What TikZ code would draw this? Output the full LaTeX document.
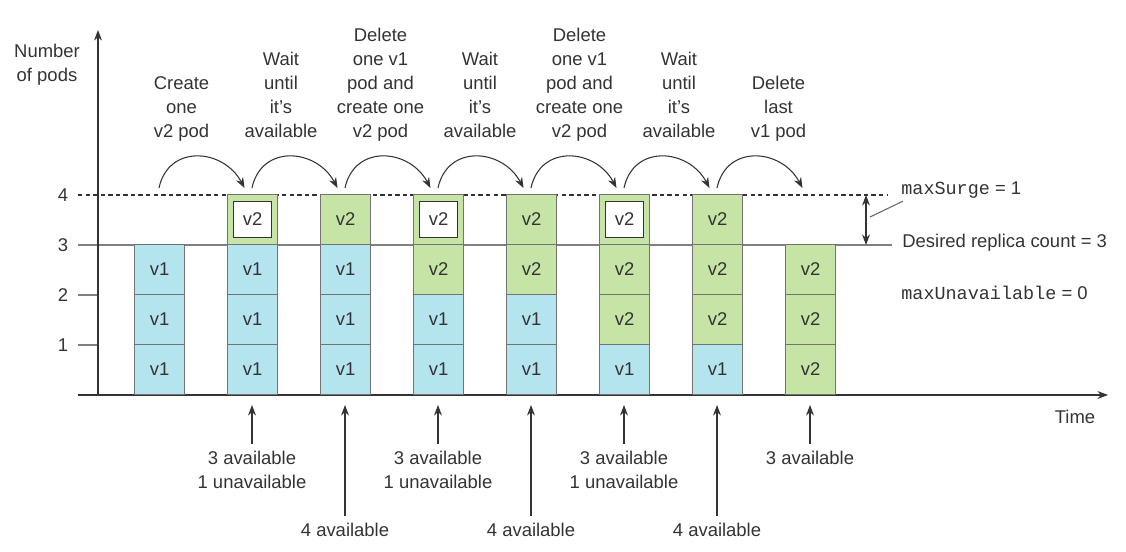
\documentclass[tikz,border=0pt]{standalone}
\usepackage{fontspec}
\setmainfont{Liberation Sans}
\setmonofont{Liberation Mono}
\usetikzlibrary{positioning,arrows.meta}
\definecolor{podblue}{RGB}{180,228,238}
\definecolor{podgreen}{RGB}{198,228,166}
\definecolor{ink}{RGB}{51,51,51}

\begin{document}
\begin{tikzpicture}[>={Stealth[length=6pt,width=4.5pt]},
    every node/.style={text=ink,font=\fontsize{10.5}{13.7}\selectfont},
    pod/.style={draw=black!55,line width=0.6pt,minimum size=1cm,inner sep=0pt,anchor=south west},
    v1/.style={pod,fill=podblue,node contents=v1},
    v2/.style={pod,fill=podgreen,node contents=v2},
    new/.style={v2,path picture={\draw[ink,line width=0.8pt,fill=white]
        ([shift={(0.12,0.14)}]path picture bounding box.south west) rectangle
        ([shift={(-0.12,-0.14)}]path picture bounding box.north east);}},
    actnote/.style={align=center,anchor=south,inner sep=0pt,execute at end node=\strut},
    countnote/.style={align=center,inner sep=4pt}]
  \useasboundingbox (-1.96,-3.12) rectangle (20.56,7.9);

  % levels and axes
  \draw[ink,line width=0.6pt,dash pattern=on 2.5pt off 1.8pt] (-0.4,4) -- (15.8,4);
  \draw[black!50,line width=0.6pt] (-0.4,3) -- (15.88,3);
  \foreach \n in {1,2}
    \draw[black!50,line width=0.6pt] (-0.4,\n) -- (0,\n);
  \draw[->,ink,line width=0.7pt] (0,0) -- (0,7.3);
  \draw[->,ink,line width=0.7pt] (-0.4,0) -- (20.2,0);
  \foreach \n in {1,...,4}
    \node (tick\n) at (-0.7,\n) {\n};
  \node[align=center] (ylab) at (-1.02,6.6) {Number\\of pods};
  \node (time) at (19.54,-0.44) {Time};

  % pods
  \foreach \pods [count=\i] in {{v1,v1,v1},{v1,v1,v1,new},{v1,v1,v1,v2},{v1,v1,v2,new},
                                 {v1,v1,v2,v2},{v1,v2,v2,new},{v1,v2,v2,v2},{v2,v2,v2}} {
    \foreach \p [count=\j] in \pods
      \node[\p,name=c\i-\j,at={({0.72+1.86*(\i-1)},\j-1)}];
    \coordinate (top\i) at ({1.22+1.86*(\i-1)},4.14);
    \coordinate (bot\i) at ({1.22+1.86*(\i-1)},-0.2);
  }

  % steps
  \foreach \txt [count=\k] in {{Create\\one\\v2 pod},{Wait\\until\\it’s\\available},
      {Delete\\one v1\\pod and\\create one\\v2 pod},{Wait\\until\\it’s\\available},
      {Delete\\one v1\\pod and\\create one\\v2 pod},{Wait\\until\\it’s\\available},
      {Delete\\last\\v1 pod}}
    \node[actnote] (act\k) at ({1.67+1.99*(\k-1)},5.0) {\txt};
  \foreach \i/\k in {1/2,2/3,3/4,4/5,5/6,6/7,7/8}
    \draw[->,ink,line width=0.6pt] (top\i) to[out=78,in=118,looseness=1.35] ([xshift=-0.15cm]top\k);

  % availability
  \foreach \i in {2,4,6}
    \node[countnote,below=0.78cm of bot\i] (n\i) {3 available\\1 unavailable};
  \node[countnote,below=0.78cm of bot8] (n8) {3 available};
  \foreach \i in {3,5,7}
    \node[countnote,below=2.22cm of bot\i] (n\i) {4 available};
  \foreach \i in {2,...,8}
    \draw[->,ink,line width=0.6pt] (n\i) -- (bot\i);

  % settings
  \node[anchor=west,inner sep=0pt] (surge) at (16.06,4.1) {\texttt{maxSurge} = 1};
  \node[anchor=west,inner sep=0pt] (desired) at (16.08,3.04) {Desired replica count = 3};
  \node[anchor=west,inner sep=0pt] (unavail) at (16.06,2.04) {\texttt{maxUnavailable} = 0};
  \coordinate (hi) at (15.36,4);
  \coordinate (lo) at (15.36,3);
  \coordinate (lead) at (15.44,3.56);
  \draw[<->,ink,line width=0.6pt] (hi) -- (lo);
  \draw[black!60,line width=0.6pt] (lead) -- ([shift={(0.04,-0.05)}]surge.south west);
\end{tikzpicture}
\end{document}
